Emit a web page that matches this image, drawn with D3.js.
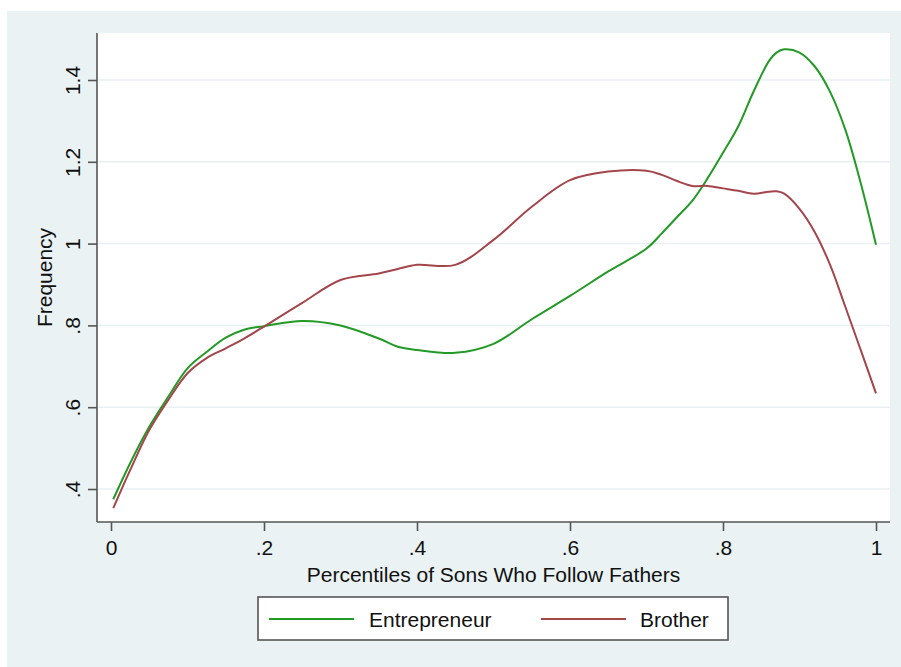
<!DOCTYPE html>
<html>
<head>
<meta charset="utf-8">
<script src="https://cdn.jsdelivr.net/npm/d3@7"></script>
<style>
  body { margin: 0; background: #fff; }
  text { font-family: "Liberation Sans", Arial, Helvetica, sans-serif; fill: #111; }
</style>
</head>
<body>
<div id="plot"></div>
<script>
// percentile positions (x) shared by both series
const pct = [0.003, 0.025, 0.05, 0.075, 0.1, 0.125, 0.15, 0.175, 0.2, 0.25, 0.3, 0.35, 0.375, 0.4, 0.45, 0.5, 0.55, 0.6, 0.65, 0.7, 0.72, 0.74, 0.76, 0.78, 0.8, 0.82, 0.84, 0.86, 0.87, 0.88, 0.9, 0.92, 0.94, 0.96, 0.98, 1.0];

const entrepreneur = [0.375, 0.463, 0.552, 0.626, 0.695, 0.735, 0.770, 0.790, 0.798, 0.811, 0.800, 0.768, 0.748, 0.740, 0.733, 0.755, 0.815, 0.872, 0.932, 0.988, 1.025, 1.065, 1.105, 1.160, 1.222, 1.287, 1.372, 1.446, 1.467, 1.475, 1.467, 1.433, 1.371, 1.278, 1.148, 0.997];

const brother = [0.353, 0.446, 0.544, 0.618, 0.683, 0.720, 0.744, 0.769, 0.797, 0.855, 0.911, 0.927, 0.938, 0.948, 0.948, 1.009, 1.090, 1.155, 1.176, 1.178, 1.168, 1.153, 1.141, 1.141, 1.135, 1.129, 1.122, 1.127, 1.128, 1.122, 1.085, 1.028, 0.948, 0.845, 0.740, 0.634];

const xTicks = [0, 0.2, 0.4, 0.6, 0.8, 1];
const yTicks = [0.4, 0.6, 0.8, 1, 1.2, 1.4];
const seriesNames = ["Entrepreneur", "Brother"];
const seriesColors = ["#229a25", "#a3464c"];

const W = 901, H = 667;
const bg = "#eaf2f3";

const svg = d3.select("#plot").append("svg")
  .attr("width", W)
  .attr("height", H);

// outer graph region
svg.append("rect")
  .attr("x", 7).attr("y", 11)
  .attr("width", W - 7).attr("height", H - 11)
  .attr("fill", bg);

const x = d3.scaleLinear().domain([0, 1]).range([111, 876]);
const y = d3.scaleLinear().domain([0.4, 1.4]).range([489, 80]);

const plot = { left: 97, right: 890, top: 33, bottom: 522 };

// plot region
svg.append("rect")
  .attr("x", plot.left).attr("y", plot.top)
  .attr("width", plot.right - plot.left)
  .attr("height", plot.bottom - plot.top)
  .attr("fill", "#fff");

// gridlines
svg.append("g")
  .selectAll("line")
  .data(yTicks)
  .join("line")
  .attr("x1", plot.left).attr("x2", plot.right)
  .attr("y1", d => y(d)).attr("y2", d => y(d))
  .attr("stroke", "#e9f0f2")
  .attr("stroke-width", 1.5);

const fmt = d => d === 0 ? "0" : d3.format(".1f")(d).replace(/^0/, "").replace(/\.0$/, "");

// y axis
const yAxis = svg.append("g")
  .attr("transform", `translate(${plot.left},0)`)
  .call(d3.axisLeft(y).tickValues(yTicks).tickFormat(fmt).tickSize(9).tickSizeOuter(0));
yAxis.select(".domain").remove();
yAxis.append("line")
  .attr("x1", 0).attr("x2", 0)
  .attr("y1", plot.top).attr("y2", plot.bottom)
  .attr("stroke", "#555").attr("stroke-width", 1.6);
yAxis.selectAll(".tick line").attr("stroke", "#555").attr("stroke-width", 1.6);
yAxis.selectAll(".tick text")
  .attr("x", null).attr("dy", null)
  .attr("transform", "translate(-17,0) rotate(-90)")
  .attr("text-anchor", "middle")
  .style("font-size", "21px")
  .style("font-family", "'Liberation Sans', Arial, sans-serif")
  .attr("fill", "#111");

// x axis
const xAxis = svg.append("g")
  .attr("transform", `translate(0,${plot.bottom})`)
  .call(d3.axisBottom(x).tickValues(xTicks).tickFormat(fmt).tickSize(9).tickSizeOuter(0));
xAxis.select(".domain").remove();
xAxis.append("line")
  .attr("x1", plot.left).attr("x2", plot.right)
  .attr("y1", 0).attr("y2", 0)
  .attr("stroke", "#555").attr("stroke-width", 1.6);
xAxis.selectAll(".tick line").attr("stroke", "#555").attr("stroke-width", 1.6);
xAxis.selectAll(".tick text")
  .attr("y", 33).attr("dy", null)
  .style("font-size", "21px")
  .style("font-family", "'Liberation Sans', Arial, sans-serif")
  .attr("fill", "#111");

// axis titles
svg.append("text")
  .attr("x", (x(0) + x(1)) / 2)
  .attr("y", 582)
  .attr("text-anchor", "middle")
  .style("font-size", "21px")
  .text("Percentiles of Sons Who Follow Fathers");

svg.append("text")
  .attr("transform", `translate(52,${(plot.top + plot.bottom) / 2}) rotate(-90)`)
  .attr("text-anchor", "middle")
  .style("font-size", "21px")
  .text("Frequency");

// lines
const line = d3.line()
  .x(d => x(d[0]))
  .y(d => y(d[1]))
  .curve(d3.curveCatmullRom.alpha(0.5));

[entrepreneur, brother].forEach((vals, i) => {
  svg.append("path")
    .datum(pct.map((p, j) => [p, vals[j]]))
    .attr("fill", "none")
    .attr("stroke", seriesColors[i])
    .attr("stroke-width", 2)
    .attr("d", line);
});

// legend
const legend = svg.append("g");
legend.append("rect")
  .attr("x", 258).attr("y", 597)
  .attr("width", 470).attr("height", 43)
  .attr("fill", "#fff")
  .attr("stroke", "#555")
  .attr("stroke-width", 1.6);

const legX = [[269, 354, 369], [541, 626, 640]];
seriesNames.forEach((name, i) => {
  legend.append("line")
    .attr("x1", legX[i][0]).attr("x2", legX[i][1])
    .attr("y1", 619).attr("y2", 619)
    .attr("stroke", seriesColors[i])
    .attr("stroke-width", 2);
  legend.append("text")
    .attr("x", legX[i][2]).attr("y", 627)
    .style("font-size", "21px")
    .text(name);
});
</script>
</body>
</html>
